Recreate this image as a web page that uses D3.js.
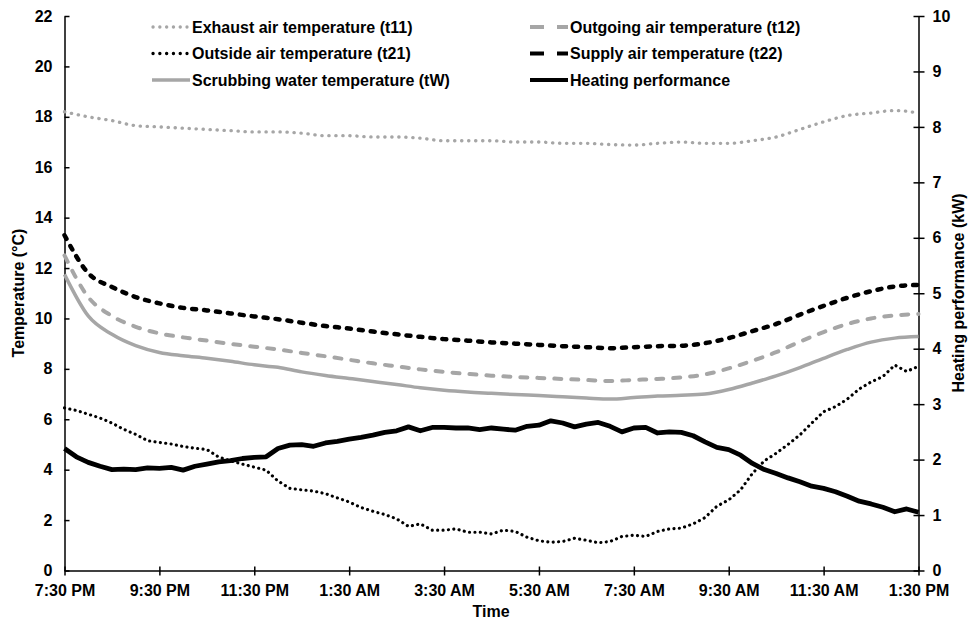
<!DOCTYPE html>
<html>
<head>
<meta charset="utf-8">
<style>
    body { margin: 0; background: #fff; }
    text { font-family: "Liberation Sans", Arial, sans-serif; font-weight: bold; fill: #000; }
</style>
</head>
<body>
<script src="https://d3js.org/d3.v7.min.js"></script>
<script>
    const width = 972;
    const height = 619;

    // hours after 7:30 PM
    const halfHours = d3.range(0, 18.001, 0.5);
    const quarterHours = d3.range(0, 18.001, 0.25);

    const xTickLabels = ["7:30 PM", "9:30 PM", "11:30 PM", "1:30 AM", "3:30 AM",
        "5:30 AM", "7:30 AM", "9:30 AM", "11:30 AM", "1:30 PM"];

    // temperatures (°C), every 30 min
    const t11 = [18.2, 18.0, 17.85, 17.65, 17.6, 17.55, 17.5, 17.45, 17.4, 17.4, 17.35, 17.25,
        17.25, 17.2, 17.2, 17.15, 17.05, 17.05, 17.05, 17.0, 17.0, 16.95, 16.95, 16.9, 16.88,
        16.95, 17.0, 16.95, 16.95, 17.05, 17.2, 17.5, 17.8, 18.05, 18.15, 18.25, 18.15];
    const t12 = [12.5, 10.85, 10.1, 9.67, 9.41, 9.25, 9.12, 8.99, 8.88, 8.77, 8.63, 8.5,
        8.36, 8.22, 8.1, 7.98, 7.88, 7.8, 7.73, 7.68, 7.64, 7.6, 7.56, 7.52, 7.56,
        7.6, 7.66, 7.78, 8.02, 8.32, 8.66, 9.08, 9.46, 9.78, 10.0, 10.12, 10.18];
    const t22 = [13.3, 11.8, 11.25, 10.85, 10.6, 10.42, 10.32, 10.2, 10.08, 9.97, 9.83, 9.7,
        9.6, 9.48, 9.37, 9.27, 9.18, 9.12, 9.05, 9.0, 8.95, 8.9, 8.86, 8.82, 8.86,
        8.9, 8.92, 9.02, 9.22, 9.5, 9.78, 10.15, 10.5, 10.82, 11.08, 11.27, 11.33];
    const tW = [11.75, 10.1, 9.37, 8.92, 8.65, 8.52, 8.42, 8.3, 8.16, 8.06, 7.88, 7.74,
        7.62, 7.5, 7.38, 7.25, 7.15, 7.08, 7.03, 6.98, 6.94, 6.89, 6.84, 6.8, 6.86,
        6.92, 6.95, 7.0, 7.18, 7.44, 7.72, 8.05, 8.42, 8.77, 9.06, 9.22, 9.28];

    // every 15 min
    const t21 = [6.45, 6.35, 6.2, 6.05, 5.85, 5.6, 5.4, 5.15, 5.08, 5.02, 4.92, 4.85, 4.8,
        4.5, 4.35, 4.22, 4.1, 3.98, 3.55, 3.26, 3.2, 3.15, 3.05, 2.88, 2.72, 2.5, 2.35,
        2.22, 2.05, 1.75, 1.85, 1.6, 1.6, 1.65, 1.52, 1.52, 1.45, 1.6, 1.55, 1.32, 1.18,
        1.12, 1.15, 1.28, 1.2, 1.1, 1.15, 1.35, 1.4, 1.35, 1.55, 1.65, 1.68, 1.85, 2.1,
        2.55, 2.8, 3.2, 3.85, 4.35, 4.65, 5.0, 5.38, 5.85, 6.3, 6.5, 6.8, 7.2, 7.48, 7.7,
        8.15, 7.9, 8.1];
    // heating performance (kW), every 15 min
    const heating = [2.2, 2.05, 1.95, 1.88, 1.82, 1.83, 1.82, 1.85, 1.84, 1.86, 1.81, 1.88,
        1.92, 1.96, 1.98, 2.02, 2.04, 2.05, 2.2, 2.26, 2.27, 2.24, 2.3, 2.33, 2.37, 2.4,
        2.44, 2.49, 2.52, 2.59, 2.52, 2.58, 2.58, 2.57, 2.57, 2.54, 2.57, 2.55, 2.53, 2.6,
        2.62, 2.7, 2.66, 2.59, 2.64, 2.67, 2.6, 2.5, 2.57, 2.58, 2.48, 2.5, 2.49, 2.43,
        2.32, 2.22, 2.18, 2.08, 1.93, 1.82, 1.75, 1.67, 1.6, 1.52, 1.48, 1.42, 1.34, 1.25,
        1.2, 1.14, 1.06, 1.11, 1.05];

    const grey = "#a6a6a6";

    const svg = d3.select("body").append("svg")
        .attr("width", width).attr("height", height);

    const x = d3.scaleLinear().domain([0, 18]).range([64.5, 918.5]);
    const yT = d3.scaleLinear().domain([0, 22]).range([570.5, 16]);
    const yP = d3.scaleLinear().domain([0, 10]).range([570.5, 16]);

    // axes
    const xAxis = d3.axisBottom(x).tickValues(d3.range(0, 18.001, 2))
        .tickFormat((d, i) => xTickLabels[i]).tickSizeInner(5).tickSizeOuter(0).tickPadding(9);
    const gx = svg.append("g").attr("transform", "translate(0,570.5)").call(xAxis);
    gx.selectAll(".tick line").attr("y1", -4);

    const yAxisL = d3.axisLeft(yT).tickValues(d3.range(0, 22.001, 2))
        .tickSizeInner(6).tickSizeOuter(0).tickPadding(6);
    const gl = svg.append("g").attr("transform", "translate(64.5,0)").call(yAxisL);
    gl.selectAll(".tick line").attr("x2", 5);

    const yAxisR = d3.axisRight(yP).tickValues(d3.range(0, 10.001, 1))
        .tickSizeInner(6).tickSizeOuter(0).tickPadding(8);
    const gr = svg.append("g").attr("transform", "translate(918.5,0)").call(yAxisR);
    gr.selectAll(".tick line").attr("x2", 6).attr("x1", -5);

    svg.selectAll(".domain, .tick line").attr("stroke", "#000").attr("stroke-width", 1.5);
    svg.selectAll(".tick text").style("font-size", "16px").attr("fill", "#000");

    // axis titles
    svg.append("text").attr("x", 491).attr("y", 617).attr("text-anchor", "middle")
        .style("font-size", "16px").text("Time");
    svg.append("text").attr("transform", "translate(24,293) rotate(-90)")
        .attr("text-anchor", "middle").style("font-size", "16px").text("Temperature (°C)");
    svg.append("text").attr("transform", "translate(964,293) rotate(-90)")
        .attr("text-anchor", "middle").style("font-size", "16px").text("Heating performance (kW)");

    const series = [
        { name: "Exhaust air temperature (t11)", t: halfHours, v: t11, y: yT, color: grey, w: 3.3, dash: "0.3 6.7", cap: "round", leg: "0.1 6.7", curve: d3.curveMonotoneX },
        { name: "Outgoing air temperature (t12)", t: halfHours, v: t12, y: yT, color: grey, w: 4, dash: "7 10", cap: "round", leg: "14 13", legCap: "butt", curve: d3.curveMonotoneX },
        { name: "Outside air temperature (t21)", t: quarterHours, v: t21, y: yT, color: "#000", w: 3.1, dash: "0.1 5.3", cap: "round", leg: "0.1 6.7", curve: d3.curveLinear },
        { name: "Supply air temperature (t22)", t: halfHours, v: t22, y: yT, color: "#000", w: 4.5, dash: "4 8", cap: "round", leg: "14 13", legCap: "butt", curve: d3.curveMonotoneX },
        { name: "Scrubbing water temperature (tW)", t: halfHours, v: tW, y: yT, color: grey, w: 3.5, dash: null, cap: "butt", leg: null, curve: d3.curveMonotoneX },
        { name: "Heating performance", t: quarterHours, v: heating, y: yP, color: "#000", w: 4.8, dash: null, cap: "butt", leg: null, curve: d3.curveLinear }
    ];

    const plot = svg.append("g");
    series.forEach(s => {
        const line = d3.line().x((d, i) => x(s.t[i])).y(d => s.y(d)).curve(s.curve);
        plot.append("path")
            .attr("d", line(s.v))
            .attr("fill", "none")
            .attr("stroke", s.color)
            .attr("stroke-width", s.w)
            .attr("stroke-linecap", s.cap)
            .attr("stroke-linejoin", "round")
            .attr("stroke-dasharray", s.dash);
    });

    // legend: two columns, three rows
    const legX = [152, 530];
    const legY = [27, 53.5, 80];
    series.forEach((s, i) => {
        const col = i % 2, row = Math.floor(i / 2);
        const g = svg.append("g").attr("transform", `translate(${legX[col]},${legY[row]})`);
        const dotted = s.cap === "round" && !s.legCap;
        g.append("line").attr("x1", dotted ? 1 : 0).attr("x2", dotted ? 35 : 38).attr("y1", 0).attr("y2", 0)
            .attr("stroke", s.color).attr("stroke-width", dotted ? 3.3 : Math.min(s.w, 4))
            .attr("stroke-linecap", s.legCap || s.cap)
            .attr("stroke-dasharray", s.leg);
        g.append("text").attr("x", 40).attr("y", 0).attr("dy", "0.35em")
            .style("font-size", "16px").text(s.name);
    });
</script>
</body>
</html>
